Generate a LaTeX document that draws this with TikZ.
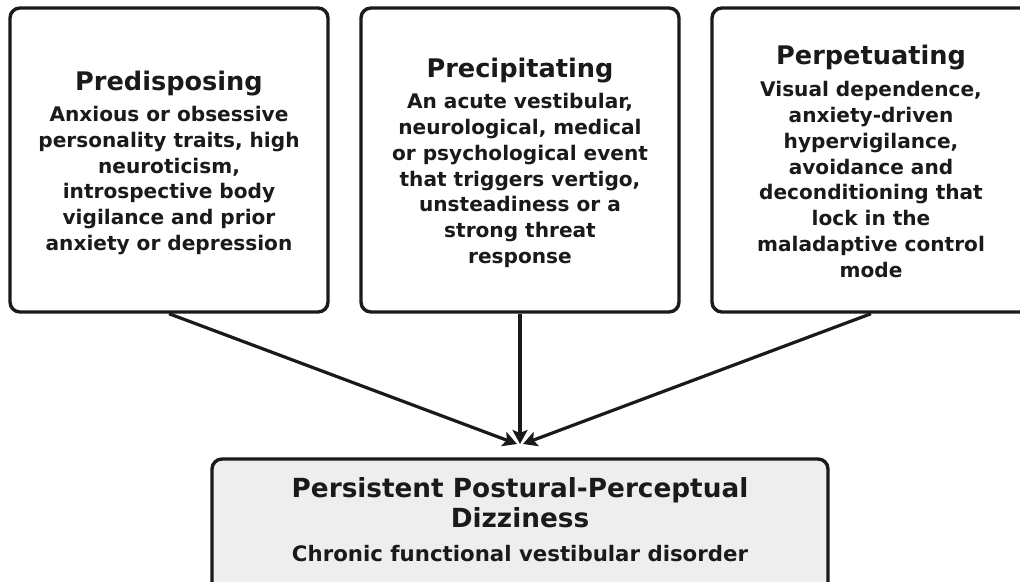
\documentclass[tikz,border=0pt]{standalone}
\usepackage{fontspec}
\setmainfont{DejaVu Sans}
\usetikzlibrary{arrows.meta}
\definecolor{ink}{HTML}{1A1A1A}
\definecolor{softgrey}{HTML}{EEEEEE}
\begin{document}
\begin{tikzpicture}[x=1pt,y=1pt,
  card/.style={draw=ink, line width=3.4pt, rounded corners=10pt, fill=white, inner sep=0pt},
  body/.style={text=ink, align=center, font=\bfseries\fontsize{20.1}{25.8}\selectfont},
  head/.style={text=ink, align=center, font=\bfseries\fontsize{25.6}{30}\selectfont},
  link/.style={draw=ink, line width=3.2pt, -{Stealth[length=14pt,width=15pt,inset=3pt]}}]
\useasboundingbox (0,0) rectangle (1020,-581);
% three factor cards
\node[card, minimum width=318pt, minimum height=304pt] (pre) at (169,-160) {};
\node[card, minimum width=318pt, minimum height=304pt] (prc) at (520,-160) {};
\node[card, minimum width=318pt, minimum height=304pt] (per) at (871,-160) {};
% outcome card
\node[card, fill=softgrey, minimum width=616pt, minimum height=140pt] (ppd) at (520,-529) {};
% card texts
\node[head] (preh) at (169,-84) {Predisposing};
\node[body] (preb) at (169,-180.5) {Anxious or obsessive\\personality traits, high\\neuroticism,\\introspective body\\vigilance and prior\\anxiety or depression};
\node[head] (prch) at (520,-70.5) {Precipitating};
\node[body] (prcb) at (520,-180.5) {An acute vestibular,\\neurological, medical\\or psychological event\\that triggers vertigo,\\unsteadiness or a\\strong threat\\response};
\node[head] (perh) at (871,-57.5) {Perpetuating};
\node[body] (perb) at (871,-179.5) {Visual dependence,\\anxiety-driven\\hypervigilance,\\avoidance and\\deconditioning that\\lock in the\\maladaptive control\\mode};
\node[head, font=\bfseries\fontsize{26.3}{30}\selectfont] (ppdh) at (520,-503) {Persistent Postural-Perceptual\\Dizziness};
\node[body, font=\bfseries\fontsize{21.3}{24}\selectfont] (ppdb) at (520,-553.5) {Chronic functional vestibular disorder};
% arrow targets just above the outcome card
\coordinate (tl) at (517,-444);
\coordinate (tm) at (520,-444);
\coordinate (tr) at (523,-444);
\draw[link] (pre.south) -- (tl);
\draw[link] (prc.south) -- (tm);
\draw[link] (per.south) -- (tr);
\end{tikzpicture}
\end{document}
